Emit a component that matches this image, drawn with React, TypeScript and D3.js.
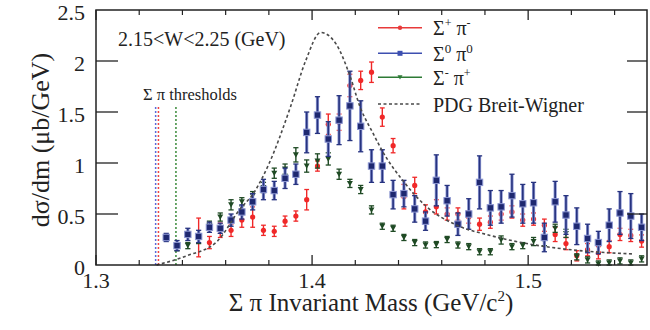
import React from 'react';
import * as d3 from 'd3';

const masses = [
  1.3325, 1.3375, 1.3425, 1.3475, 1.3525, 1.3575, 1.3625, 1.3675, 1.3725, 1.3775,
  1.3825, 1.3875, 1.3925, 1.3975, 1.4025, 1.4075, 1.4125, 1.4175, 1.4225, 1.4275,
  1.4325, 1.4375, 1.4425, 1.4475, 1.4525, 1.4575, 1.4625, 1.4675, 1.4725, 1.4775,
  1.4825, 1.4875, 1.4925, 1.4975, 1.5025, 1.5075, 1.5125, 1.5175, 1.5225, 1.5275,
  1.5325, 1.5375, 1.5425, 1.5475, 1.5525,
];

const sigmaPlusValues = [
  null, null, null, 0.27, 0.22, 0.34, 0.34, 0.44, 0.47, 0.34,
  0.33, 0.43, 0.48, 0.64, 0.97, 1.38, 1.40, 1.76, 1.81, 1.89,
  1.45, 1.17, 0.67, 0.78, 0.52, 0.57, 0.50, 0.50, 0.47, 0.40,
  0.42, 0.50, 0.52, 0.44, 0.45, 0.39, 0.30, 0.21, 0.09, 0.15,
  0.12, 0.18, 0.30, 0.29, 0.235,
];
const sigmaPlusErrors = [
  0, 0, 0, 0.19, 0.06, 0.07, 0.06, 0.07, 0.10, 0.05,
  0.05, 0.05, 0.05, 0.10, 0.05, 0.10, 0.08, 0.11, 0.09, 0.10,
  0.09, 0.07, 0.12, 0.08, 0.07, 0.07, 0.06, 0.06, 0.06, 0.06,
  0.06, 0.06, 0.06, 0.06, 0.06, 0.06, 0.07, 0.06, 0.05, 0.06,
  0.06, 0.06, 0.06, 0.06, 0.06,
];

const sigmaZeroValues = [
  0.27, 0.19, 0.30, 0.28, 0.37, 0.36, 0.44, 0.52, 0.62, 0.74,
  0.73, 0.85, 0.89, 1.30, 1.47, 1.235, 1.42, 1.56, 1.36, 0.97,
  0.97, 0.69, 0.70, 0.55, 0.43, 0.83, 0.63, 0.40, 0.50, 0.81,
  0.56, 0.57, 0.68, 0.60, 0.61, 0.27, 0.62, 0.49, 0.38, 0.26,
  0.22, 0.39, 0.51, 0.48, 0.37,
];
const sigmaZeroErrors = [
  0.04, 0.05, 0.06, 0.06, 0.05, 0.05, 0.06, 0.07, 0.08, 0.10,
  0.09, 0.10, 0.10, 0.20, 0.18, 0.17, 0.24, 0.34, 0.25, 0.16,
  0.16, 0.14, 0.13, 0.13, 0.09, 0.25, 0.15, 0.11, 0.15, 0.26,
  0.17, 0.16, 0.21, 0.19, 0.20, 0.14, 0.20, 0.19, 0.18, 0.14,
  0.11, 0.16, 0.21, 0.22, 0.13,
];

const sigmaMinusValues = [
  null, 0.17, 0.19, 0.25, 0.39, 0.47, 0.59, 0.62, 0.68, 0.76,
  0.90, 0.94, 1.08, 0.97, 1.02, 1.04, 0.89, 0.80, 0.74, 0.54,
  0.38, 0.36, 0.27, 0.22, 0.196, 0.20, 0.25, 0.196, 0.18, 0.13,
  0.13, 0.245, 0.18, 0.19, 0.23, 0.23, 0.36, 0.31, 0.08, 0.05,
  0.01, 0.02, 0.04, 0.02, 0.06,
];
const sigmaMinusErrors = [
  0, 0.03, 0.03, 0.04, 0.04, 0.04, 0.05, 0.04, 0.04, 0.05,
  0.05, 0.05, 0.07, 0.06, 0.07, 0.06, 0.05, 0.04, 0.04, 0.04,
  0.03, 0.03, 0.03, 0.03, 0.03, 0.03, 0.03, 0.03, 0.03, 0.03,
  0.03, 0.04, 0.03, 0.03, 0.04, 0.04, 0.04, 0.04, 0.03, 0.03,
  0.03, 0.03, 0.03, 0.03, 0.03,
];

const bwMass = [
  1.328, 1.342, 1.356, 1.3667, 1.3728, 1.38, 1.39, 1.397, 1.404, 1.411,
  1.4176, 1.4222, 1.428, 1.433, 1.4423, 1.4531, 1.467, 1.4824, 1.4994, 1.521, 1.549,
];
const bwValue = [
  0, 0.09, 0.23, 0.55, 0.70, 0.99, 1.55, 2.0, 2.28, 2.17,
  1.85, 1.55, 1.30, 1.10, 0.82, 0.57, 0.39, 0.29, 0.21, 0.147, 0.108,
];

const thresholdMasses = [1.3276, 1.3289, 1.337];
const thresholdColors = ['#5a6ad8', '#ee4444', '#3a8a3a'];

const xMajorTicks = [1.3, 1.4, 1.5];
const xMajorLabels = ['1.3', '1.4', '1.5'];
const xMinorTicks = [1.32, 1.34, 1.36, 1.38, 1.42, 1.44, 1.46, 1.48, 1.52, 1.54];
const yTicks = [0, 0.5, 1, 1.5, 2, 2.5];
const yTickLabels = ['0', '0.5', '1', '1.5', '2', '2.5'];

const FONT = "'Liberation Serif', 'Times New Roman', serif";
const TEXT = '#222';

const RED = '#f02828';
const BLUE_FILL = '#1e2870';
const BLUE_BAR = '#27337f';
const BLUE_EDGE = '#8c96d2';
const GREEN = '#1f4a24';

export default function App() {
  const left = 96, right = 647, top = 10, bottom = 265;
  const x = d3.scaleLinear().domain([1.3, 1.555]).range([left, right]);
  const y = d3.scaleLinear().domain([0, 2.5]).range([bottom, top]);

  const bwLine = d3
    .line<number>()
    .x((_, i) => x(bwMass[i]))
    .y((d) => y(d))
    .curve(d3.curveMonotoneX);

  const errBar = (
    key: string,
    m: number,
    v: number,
    e: number,
    color: string,
    cap: number,
    sw: number,
    edge?: string
  ) => {
    const cx = x(m);
    const y1 = y(v + e);
    const y2 = y(Math.max(v - e, 0));
    return (
      <g key={key}>
        {edge && (
          <line x1={cx} x2={cx} y1={y1} y2={y2} stroke={edge} strokeWidth={sw + 1.6} />
        )}
        <line x1={cx} x2={cx} y1={y1} y2={y2} stroke={color} strokeWidth={sw} />
        <line x1={cx - cap} x2={cx + cap} y1={y1} y2={y1} stroke={color} strokeWidth={1.3} />
        <line x1={cx - cap} x2={cx + cap} y1={y2} y2={y2} stroke={color} strokeWidth={1.3} />
      </g>
    );
  };

  const redMarks = masses.map((m, i) => {
    const v = sigmaPlusValues[i];
    if (v === null) return null;
    return (
      <g key={'r' + i}>
        {errBar('re' + i, m, v, sigmaPlusErrors[i], RED, 2.4, 1.4)}
        <circle cx={x(m)} cy={y(v)} r={2.6} fill={RED} />
      </g>
    );
  });

  const greenMarks = masses.map((m, i) => {
    const v = sigmaMinusValues[i];
    if (v === null) return null;
    const cx = x(m);
    const cy = y(v);
    return (
      <g key={'g' + i}>
        {errBar('ge' + i, m, v, sigmaMinusErrors[i], GREEN, 2.6, 1.4)}
        <path
          d={`M${cx - 3},${cy - 2.5} L${cx + 3},${cy - 2.5} L${cx},${cy + 2.8} Z`}
          fill={GREEN}
        />
      </g>
    );
  });

  const blueMarks = masses.map((m, i) => {
    const v = sigmaZeroValues[i];
    const cx = x(m);
    const cy = y(v);
    return (
      <g key={'b' + i}>
        {errBar('be' + i, m, v, sigmaZeroErrors[i], BLUE_BAR, 2.6, 1.6, BLUE_EDGE)}
        <rect
          x={cx - 3.2}
          y={cy - 3.2}
          width={6.4}
          height={6.4}
          fill={BLUE_FILL}
          stroke={BLUE_EDGE}
          strokeWidth={1}
        />
      </g>
    );
  });

  const legendRows = [
    { y: 27.7, color: '#e83a3a', kind: 'red' },
    { y: 53.3, color: '#3d4fb0', kind: 'blue' },
    { y: 77.3, color: '#2d7a35', kind: 'green' },
  ];

  return (
    <svg
      width={650}
      height={330}
      style={{ position: 'absolute', left: 0, top: 0, background: '#fff' }}
      fontFamily={FONT}
    >
      <rect x={0} y={0} width={650} height={330} fill="#fff" />

      {/* threshold lines */}
      {thresholdMasses.map((m, i) => (
        <line
          key={'t' + i}
          x1={x(m)}
          x2={x(m)}
          y1={107}
          y2={bottom}
          stroke={thresholdColors[i]}
          strokeWidth={1.5}
          strokeDasharray="2,2"
        />
      ))}
      <text x={143} y={100} fontSize={16.5} fill={TEXT}>
        Σ π thresholds
      </text>

      {/* data */}
      <g>{redMarks}</g>
      <g>{greenMarks}</g>
      <g>{blueMarks}</g>

      {/* Breit-Wigner */}
      <path
        d={bwLine(bwValue) || ''}
        fill="none"
        stroke="#4a4a4a"
        strokeWidth={1.6}
        strokeDasharray="3,2.5"
      />

      {/* frame */}
      <rect
        x={left}
        y={top}
        width={right - left}
        height={bottom - top}
        fill="none"
        stroke="#222"
        strokeWidth={1.5}
      />

      {/* x ticks */}
      {xMajorTicks.map((t, i) => (
        <g key={'xm' + i}>
          <line x1={x(t)} x2={x(t)} y1={bottom} y2={bottom - 10} stroke="#222" strokeWidth={1.3} />
          <line x1={x(t)} x2={x(t)} y1={top} y2={top + 10} stroke="#222" strokeWidth={1.3} />
          <text x={x(t)} y={288} fontSize={22} textAnchor="middle" fill={TEXT}>
            {xMajorLabels[i]}
          </text>
        </g>
      ))}
      {xMinorTicks.map((t, i) => (
        <g key={'xn' + i}>
          <line x1={x(t)} x2={x(t)} y1={bottom} y2={bottom - 5} stroke="#222" strokeWidth={1.2} />
          <line x1={x(t)} x2={x(t)} y1={top} y2={top + 5} stroke="#222" strokeWidth={1.2} />
        </g>
      ))}

      {/* y ticks */}
      {yTicks.map((t, i) => (
        <g key={'y' + i}>
          {t > 0 && t < 2.5 && (
            <>
              <line x1={left} x2={left + 22} y1={y(t)} y2={y(t)} stroke="#222" strokeWidth={1.3} />
              <line x1={right} x2={right - 20} y1={y(t)} y2={y(t)} stroke="#222" strokeWidth={1.3} />
            </>
          )}
          <text x={85} y={y(t) + 10} fontSize={22} textAnchor="end" fill={TEXT}>
            {yTickLabels[i]}
          </text>
        </g>
      ))}

      {/* axis titles */}
      <text x={371} y={311} fontSize={25} textAnchor="middle" fill={TEXT}>
        Σ π Invariant Mass (GeV/c
        <tspan fontSize={15} dy={-10}>
          2
        </tspan>
        <tspan dy={10}>)</tspan>
      </text>
      <text
        transform={`translate(49, 140) rotate(-90)`}
        fontSize={26}
        textAnchor="middle"
        fill={TEXT}
      >
        dσ/dm (μb/GeV)
      </text>

      {/* W range */}
      <text x={118} y={46} fontSize={20} fill={TEXT}>
        2.15&lt;W&lt;2.25 (GeV)
      </text>

      {/* legend */}
      {legendRows.map((r, i) => (
        <g key={'l' + i}>
          <line x1={378} x2={422} y1={r.y} y2={r.y} stroke={r.color} strokeWidth={1.6} />
          {r.kind === 'red' && <circle cx={400} cy={r.y} r={2.2} fill={r.color} />}
          {r.kind === 'blue' && (
            <rect x={397.5} y={r.y - 2.5} width={5} height={5} fill={r.color} />
          )}
          {r.kind === 'green' && (
            <path d={`M397.5,${r.y - 2} L402.5,${r.y - 2} L400,${r.y + 2.3} Z`} fill={r.color} />
          )}
        </g>
      ))}
      <text x={433} y={35} fontSize={20} fill={TEXT}>
        Σ<tspan fontSize={12} dy={-8}>+</tspan>
        <tspan dy={8}> π</tspan>
        <tspan fontSize={12} dy={-8}>-</tspan>
      </text>
      <text x={433} y={60.5} fontSize={20} fill={TEXT}>
        Σ<tspan fontSize={13} dy={-8}>0</tspan>
        <tspan dy={8}> π</tspan>
        <tspan fontSize={13} dy={-8}>0</tspan>
      </text>
      <text x={433} y={84.5} fontSize={20} fill={TEXT}>
        Σ<tspan fontSize={12} dy={-8}>-</tspan>
        <tspan dy={8}> π</tspan>
        <tspan fontSize={12} dy={-8}>+</tspan>
      </text>
      <line x1={378} x2={422} y1={104} y2={104} stroke="#4a4a4a" strokeWidth={1.6} strokeDasharray="3,2.5" />
      <text x={433} y={111.5} fontSize={20} fill={TEXT}>
        PDG Breit-Wigner
      </text>
    </svg>
  );
}
